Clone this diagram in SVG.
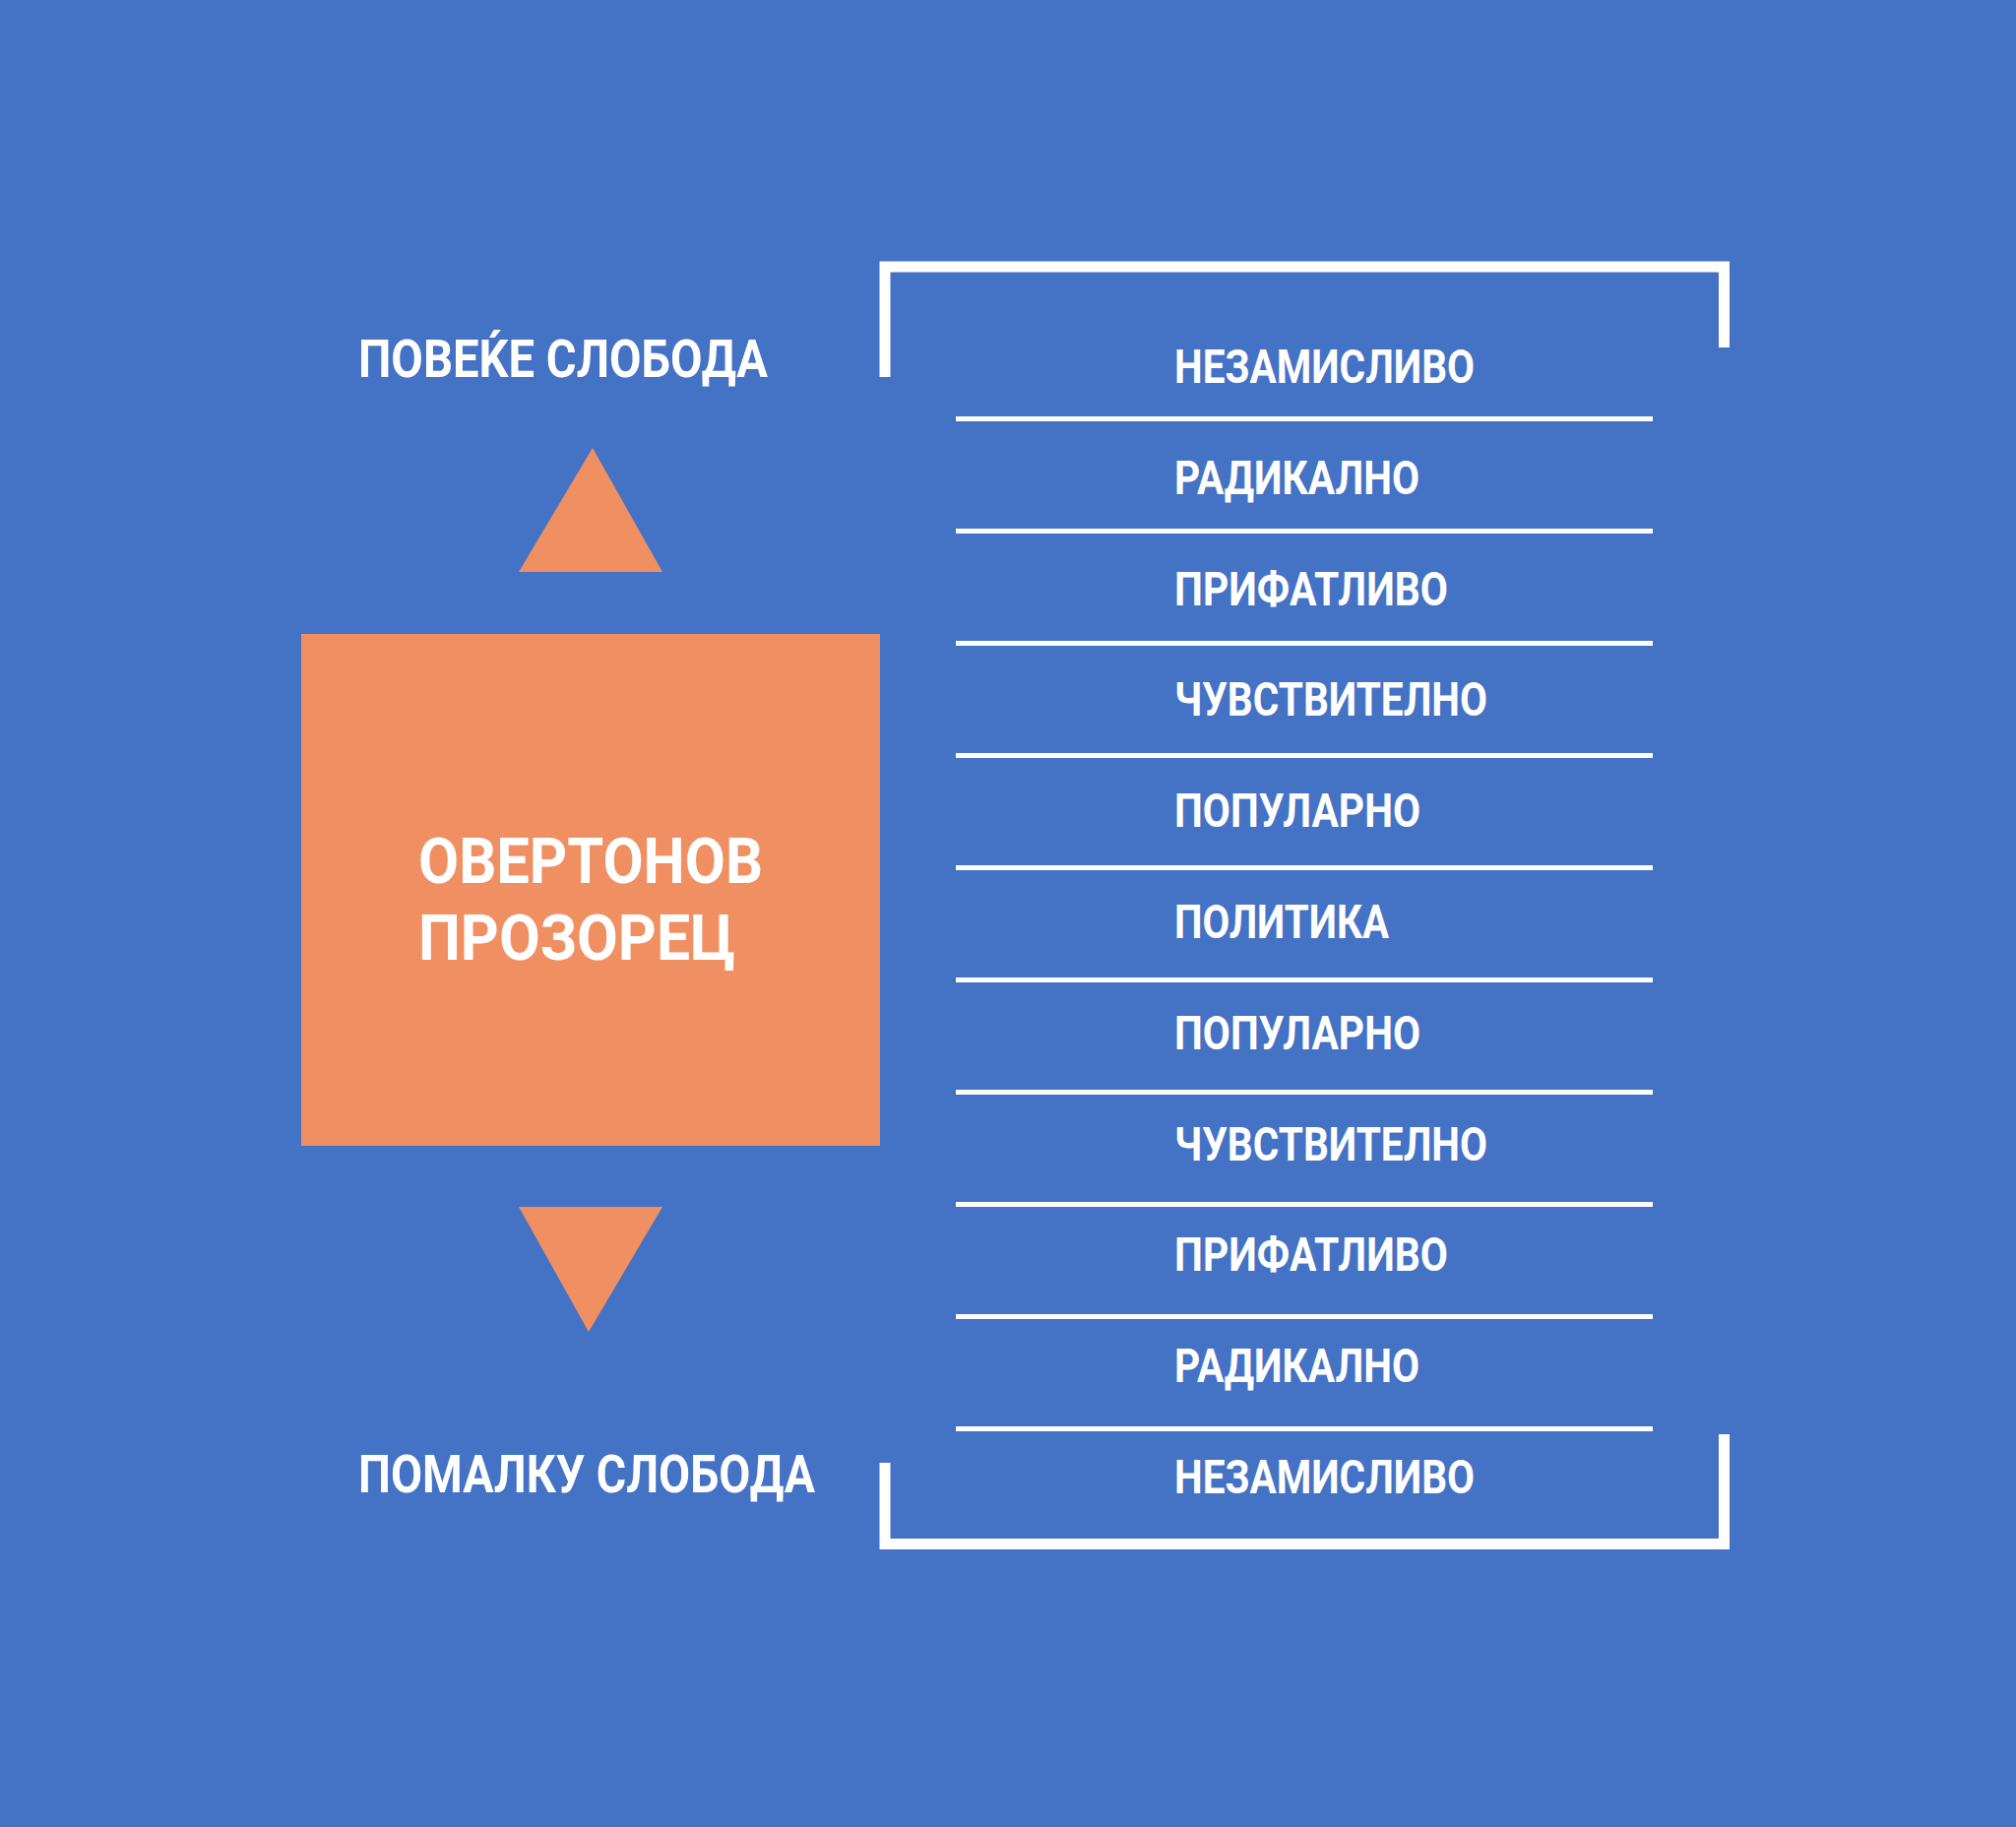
<svg xmlns="http://www.w3.org/2000/svg" width="2048" height="1856" viewBox="0 0 2048 1856">
  <style>
    .lbl { font-family: "Roboto", "Liberation Sans", "DejaVu Sans", sans-serif; font-weight: 700; fill: #ffffff; }
    .item { font-size: 48px; }
    .side { font-size: 53px; }
    .title { font-size: 65px; }
    .frame { fill: none; stroke: #ffffff; stroke-width: 11; stroke-linejoin: miter; stroke-linecap: butt; }
    .rule { stroke: #ffffff; stroke-width: 5; }
    .accent { fill: #F09062; }
  </style>

  <!-- background -->
  <rect x="0" y="0" width="2048" height="1856" fill="#4472C4"/>

  <!-- side captions -->
  <g id="label-more">
    <text class="lbl side" x="364" y="383" textLength="416" lengthAdjust="spacingAndGlyphs">ПОВЕЌЕ СЛОБОДА</text>
  </g>
  <g id="label-less">
    <text class="lbl side" x="364" y="1516" textLength="464" lengthAdjust="spacingAndGlyphs">ПОМАЛКУ СЛОБОДА</text>
  </g>

  <!-- central box -->
  <g id="window">
    <rect class="accent" x="306" y="644" width="588" height="520"/>
    <text class="lbl title" x="425" y="897" textLength="350" lengthAdjust="spacingAndGlyphs">ОВЕРТОНОВ</text>
    <text class="lbl title" x="425" y="975" textLength="322" lengthAdjust="spacingAndGlyphs">ПРОЗОРЕЦ</text>
  </g>

  <!-- direction arrows -->
  <g id="arrow-up">
    <polygon class="accent" points="602,455 673,581 527,581"/>
  </g>
  <g id="arrow-down">
    <polygon class="accent" points="527,1226 673,1226 598,1353"/>
  </g>

  <!-- frame brackets and row separators -->
  <g id="connectors">
    <path class="frame" d="M 899 383 V 271 H 1751.5 V 353"/>
    <path class="frame" d="M 899 1486 V 1568.5 H 1751.5 V 1457"/>
    <line class="rule" x1="971" y1="425.5" x2="1679" y2="425.5"/>
    <line class="rule" x1="971" y1="539.5" x2="1679" y2="539.5"/>
    <line class="rule" x1="971" y1="653.5" x2="1679" y2="653.5"/>
    <line class="rule" x1="971" y1="767.5" x2="1679" y2="767.5"/>
    <line class="rule" x1="971" y1="881.5" x2="1679" y2="881.5"/>
    <line class="rule" x1="971" y1="995.5" x2="1679" y2="995.5"/>
    <line class="rule" x1="971" y1="1109.5" x2="1679" y2="1109.5"/>
    <line class="rule" x1="971" y1="1223.5" x2="1679" y2="1223.5"/>
    <line class="rule" x1="971" y1="1337.5" x2="1679" y2="1337.5"/>
    <line class="rule" x1="971" y1="1451.5" x2="1679" y2="1451.5"/>
  </g>

  <!-- scale rows -->
  <g id="row-0"><text class="lbl item" x="1193" y="389" textLength="305" lengthAdjust="spacingAndGlyphs">НЕЗАМИСЛИВО</text></g>
  <g id="row-1"><text class="lbl item" x="1193" y="502" textLength="249" lengthAdjust="spacingAndGlyphs">РАДИКАЛНО</text></g>
  <g id="row-2"><text class="lbl item" x="1193" y="615" textLength="278" lengthAdjust="spacingAndGlyphs">ПРИФАТЛИВО</text></g>
  <g id="row-3"><text class="lbl item" x="1193" y="727" textLength="318" lengthAdjust="spacingAndGlyphs">ЧУВСТВИТЕЛНО</text></g>
  <g id="row-4"><text class="lbl item" x="1193" y="840" textLength="250" lengthAdjust="spacingAndGlyphs">ПОПУЛАРНО</text></g>
  <g id="row-5"><text class="lbl item" x="1193" y="953" textLength="218" lengthAdjust="spacingAndGlyphs">ПОЛИТИКА</text></g>
  <g id="row-6"><text class="lbl item" x="1193" y="1066" textLength="250" lengthAdjust="spacingAndGlyphs">ПОПУЛАРНО</text></g>
  <g id="row-7"><text class="lbl item" x="1193" y="1179" textLength="318" lengthAdjust="spacingAndGlyphs">ЧУВСТВИТЕЛНО</text></g>
  <g id="row-8"><text class="lbl item" x="1193" y="1291" textLength="278" lengthAdjust="spacingAndGlyphs">ПРИФАТЛИВО</text></g>
  <g id="row-9"><text class="lbl item" x="1193" y="1404" textLength="249" lengthAdjust="spacingAndGlyphs">РАДИКАЛНО</text></g>
  <g id="row-10"><text class="lbl item" x="1193" y="1517" textLength="305" lengthAdjust="spacingAndGlyphs">НЕЗАМИСЛИВО</text></g>
</svg>
